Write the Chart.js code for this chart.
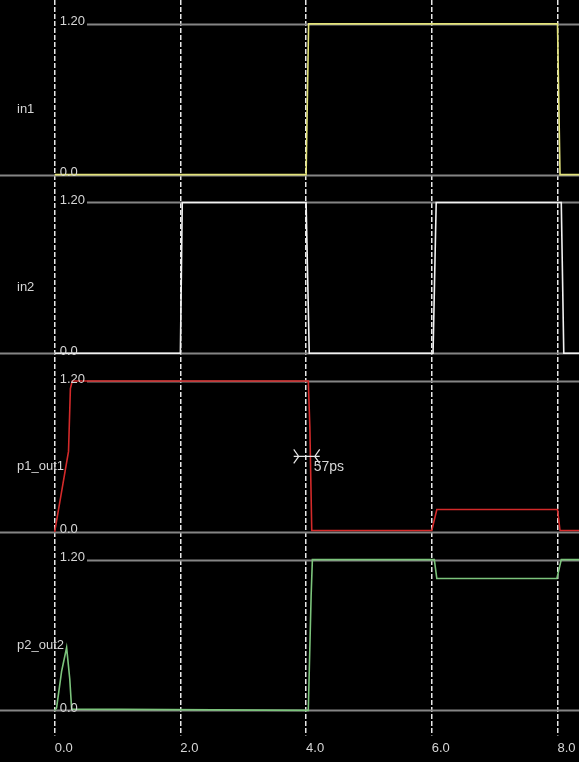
<!DOCTYPE html>
<html>
<head>
<meta charset="utf-8">
<script src="https://cdn.jsdelivr.net/npm/chart.js@4.4.1/dist/chart.umd.min.js"></script>
<style>
  html, body { margin: 0; padding: 0; background: #000; overflow: hidden; }
  canvas { display: block; }
</style>
</head>
<body>
<canvas id="wave" width="579" height="762"></canvas>
<script>
// Transient simulation waveforms: time in ns, voltage in V
const signalNames = ['in1', 'in2', 'p1_out1', 'p2_out2'];
const timeTicks = [0, 2, 4, 6, 8];
const timeTickLabels = ['0.0', '2.0', '4.0', '6.0', '8.0'];
const levelValues = [0, 1.2];
const levelLabels = ['0.0', '1.20'];

const in1Time = [0, 4.0, 4.04, 8.0, 8.04, 8.35];
const in1Volt = [0, 0, 1.2, 1.2, 0, 0];

const in2Time = [0, 2.0, 2.03, 4.0, 4.05, 6.02, 6.07, 8.06, 8.1, 8.35];
const in2Volt = [0, 0, 1.2, 1.2, 0, 0, 1.2, 1.2, 0, 0];

const p1Time = [0, 0.22, 0.25, 0.28, 4.035, 4.06, 4.09, 6.0, 6.08, 8.0, 8.04, 8.35];
const p1Volt = [0, 0.64, 1.14, 1.2, 1.2, 0.83, 0.01, 0.01, 0.177, 0.177, 0.01, 0.01];

const p2Time = [0, 0.03, 0.11, 0.19, 0.24, 0.27, 4.035, 4.08, 4.1, 6.04, 6.08, 7.99, 8.06, 8.35];
const p2Volt = [0, 0.02, 0.31, 0.5, 0.25, 0.01, 0, 0.91, 1.2, 1.2, 1.05, 1.05, 1.2, 1.2];

// Delay measurement cursor on p1_out1 (50% crossing)
const delayMarkerTime = 4.01;
const delayMarkerVolt = 0.6;
const delayMarkerLabel = '57ps';

const traceColors = ['#e2e27a', '#f2f2f2', '#d42a2a', '#7cc47c'];
const axisIds = ['yIn1', 'yIn2', 'yP1', 'yP2'];
const textColor = '#d6d6d6';
const levelColor = '#858585';
const labelFont = '13px "Liberation Sans", Arial, sans-serif';

function toPoints(ts, vs) {
  return ts.map((t, i) => ({ x: t, y: vs[i] }));
}

const seriesPoints = [
  toPoints(in1Time, in1Volt),
  toPoints(in2Time, in2Volt),
  toPoints(p1Time, p1Volt),
  toPoints(p2Time, p2Volt)
];

const datasets = signalNames.map((name, i) => ({
  label: name,
  data: seriesPoints[i],
  yAxisID: axisIds[i],
  borderColor: traceColors[i],
  borderWidth: 1.6,
  pointRadius: 0,
  tension: 0,
  fill: false
}));

// One hidden linear axis per waveform, stacked; left-side stacks are laid out
// from the last declared axis downwards, so declare them bottom-first.
const yScales = {};
axisIds.slice().reverse().forEach((id) => {
  yScales[id] = {
    type: 'linear',
    display: false,
    position: 'left',
    stack: 'wave',
    stackWeight: 1,
    min: -0.032,
    max: 1.39
  };
});

const waveDecor = {
  id: 'waveDecor',
  beforeDatasetsDraw(chart) {
    const { ctx, chartArea, scales } = chart;
    const x0 = scales.x.getPixelForValue(0);
    ctx.save();
    ctx.strokeStyle = levelColor;
    ctx.lineWidth = 2;
    ctx.font = labelFont;
    axisIds.forEach((id) => {
      const s = scales[id];
      levelValues.forEach((v, k) => {
        const y = Math.round(s.getPixelForValue(v)) + 0.5;
        let startX = chartArea.left;
        if (k > 0) startX = x0 + 5 + ctx.measureText(levelLabels[k]).width + 2;
        ctx.beginPath();
        ctx.moveTo(startX, y);
        ctx.lineTo(chartArea.right, y);
        ctx.stroke();
      });
    });
    ctx.restore();
  },
  afterDatasetsDraw(chart) {
    const { ctx, scales } = chart;
    const x0 = scales.x.getPixelForValue(0);
    ctx.save();
    ctx.fillStyle = textColor;
    ctx.font = labelFont;
    ctx.textBaseline = 'middle';
    ctx.textAlign = 'left';
    axisIds.forEach((id, i) => {
      const s = scales[id];
      levelValues.forEach((v, k) => {
        ctx.fillText(levelLabels[k], x0 + 5, s.getPixelForValue(v) - 2);
      });
      ctx.fillText(signalNames[i], 17, s.getPixelForValue(0.52));
    });

    // delay cursor
    const mx = scales.x.getPixelForValue(delayMarkerTime);
    const my = scales.yP1.getPixelForValue(delayMarkerVolt);
    ctx.strokeStyle = '#e6e6e6';
    ctx.lineWidth = 1.2;
    ctx.beginPath();
    ctx.moveTo(mx - 13, my); ctx.lineTo(mx + 13, my);
    ctx.moveTo(mx - 13, my - 7); ctx.lineTo(mx - 8, my); ctx.lineTo(mx - 13, my + 7);
    ctx.moveTo(mx + 13, my - 7); ctx.lineTo(mx + 8, my); ctx.lineTo(mx + 13, my + 7);
    ctx.stroke();
    ctx.font = '14px "Liberation Sans", Arial, sans-serif';
    ctx.fillText(delayMarkerLabel, mx + 7, my + 11);
    ctx.restore();
  }
};

new Chart(document.getElementById('wave'), {
  type: 'line',
  data: { datasets },
  options: {
    responsive: false,
    animation: false,
    layout: { padding: { top: 0, left: 0, right: 0, bottom: 1 } },
    plugins: { legend: { display: false }, tooltip: { enabled: false } },
    scales: {
      x: {
        type: 'linear',
        min: -0.87,
        max: 8.342,
        afterBuildTicks(scale) {
          scale.ticks = timeTicks.map((v) => ({ value: v }));
        },
        ticks: {
          color: textColor,
          font: { family: '"Liberation Sans", Arial, sans-serif', size: 13 },
          align: 'center',
          labelOffset: 9,
          padding: 5,
          maxRotation: 0,
          callback(value) {
            const i = timeTicks.indexOf(value);
            return i >= 0 ? timeTickLabels[i] : '';
          }
        },
        grid: {
          color: '#e8e8e8',
          lineWidth: 1.5,
          tickBorderDash: [5, 2],
          tickLength: 21,
          tickColor: '#e8e8e8',
          tickWidth: 1.5
        },
        border: { display: false, dash: [5, 2] }
      },
      ...yScales
    }
  },
  plugins: [waveDecor]
});
</script>
</body>
</html>
